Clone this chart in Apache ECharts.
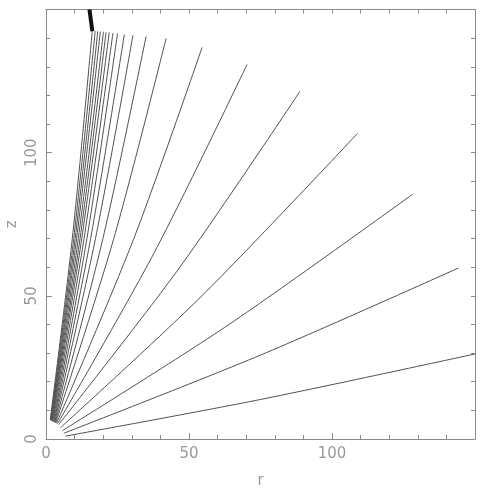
<!DOCTYPE html>
<html>
<head>
<meta charset="utf-8">
<script src="https://cdn.jsdelivr.net/npm/echarts@6/dist/echarts.min.js"></script>
<style>
  html, body { margin: 0; padding: 0; background: #fff; }
  #main { width: 484px; height: 491px; }
</style>
</head>
<body>
<div id="main"></div>
<script>
// axis ranges and ticks
const rRange = [0, 150]
const zRange = [0, 150]
const majorTicks = [0, 50, 100]

// field lines as [r, z] points (start, middle, end)
const fieldLines = [
  [[6.8, 1.0], [75, 13.8], [150, 29.7]],
  [[6.2, 2.0], [75, 29.3], [144.2, 59.7]],
  [[5.7, 2.9], [64, 40], [128.2, 85.5]],
  [[5.0, 3.9], [54.5, 50], [109, 106.8]],
  [[4.4, 5.0], [46.8, 60], [88.8, 121.4]],
  [[4.0, 5.3], [37.8, 65], [70.3, 130.8]],
  [[3.7, 5.5], [30.7, 70], [54.6, 136.8]],
  [[3.4, 5.6], [23.7, 70], [42.0, 139.9]],
  [[3.2, 5.7], [19.9, 70], [35.0, 140.6]],
  [[3.0, 5.8], [17.3, 70], [30.4, 141.0]],
  [[2.8, 5.9], [15.6, 70], [27.4, 141.3]],
  [[2.6, 6.0], [14.3, 70], [25.0, 141.6]],
  [[2.4, 6.1], [13.3, 70], [23.4, 141.8]],
  [[2.2, 6.2], [12.5, 70], [22.1, 142.0]],
  [[2.0, 6.3], [11.9, 70], [21.0, 142.1]],
  [[1.9, 6.4], [11.3, 70], [20.1, 142.2]],
  [[1.8, 6.5], [10.7, 70], [19.0, 142.3]],
  [[1.7, 6.6], [10.2, 70], [18.1, 142.4]],
  [[1.6, 6.7], [9.7, 70], [17.2, 142.5]],
  [[1.5, 6.8], [9.2, 70], [16.2, 142.6]]
]

// the short bold stroke at the top
const boldStroke = [[16.2, 142.4], [15.2, 150]]

const axisGray = '#8a8a8a'
const textGray = '#999999'
const font = 'DejaVu Sans'

const chart = echarts.init(document.getElementById('main'), null, { renderer: 'canvas' })

const baseAxis = {
  type: 'value',
  interval: 50,
  nameMoveOverlap: false,
  axisLine: { show: true, onZero: false, lineStyle: { color: axisGray, width: 1 } },
  axisTick: { show: true, inside: true, length: 6, lineStyle: { color: axisGray } },
  minorTick: { show: true, splitNumber: 5, length: 4, lineStyle: { color: axisGray } },
  splitLine: { show: false },
  nameTextStyle: { color: textGray, fontFamily: font, fontSize: 15 },
  axisLabel: { color: textGray, fontFamily: font, fontSize: 15 }
}

const series = fieldLines.map((pts) => ({
  type: 'line',
  data: pts,
  smooth: 0.3,
  symbol: 'none',
  xAxisIndex: 0,
  yAxisIndex: 0,
  lineStyle: { color: '#505050', width: 1 },
  silent: true,
  animation: false
}))
series.push({
  type: 'line',
  data: boldStroke,
  symbol: 'none',
  lineStyle: { color: '#111', width: 4 },
  silent: true,
  animation: false
})

chart.setOption({
  animation: false,
  grid: { left: 46, right: 9, top: 9.5, bottom: 52, containLabel: false, outerBoundsMode: 'none' },
  xAxis: [
    Object.assign({}, baseAxis, {
      min: rRange[0], max: rRange[1],
      position: 'bottom',
      name: 'r', nameLocation: 'middle', nameGap: 35,
      axisLabel: Object.assign({}, baseAxis.axisLabel, {
        margin: 8,
        formatter: (v) => majorTicks.includes(v) ? String(v) : ''
      })
    }),
    Object.assign({}, baseAxis, {
      min: rRange[0], max: rRange[1],
      position: 'top',
      axisTick: { show: true, inside: true, length: 4, lineStyle: { color: axisGray } },
      axisLabel: { show: false }
    })
  ],
  yAxis: [
    Object.assign({}, baseAxis, {
      min: zRange[0], max: zRange[1],
      position: 'left',
      name: 'z', nameLocation: 'middle', nameGap: 26, nameRotate: 90,
      axisLabel: Object.assign({}, baseAxis.axisLabel, {
        rotate: 90,
        margin: 6,
        formatter: (v) => majorTicks.includes(v) ? String(v) : ''
      })
    }),
    Object.assign({}, baseAxis, {
      min: zRange[0], max: zRange[1],
      position: 'right',
      axisTick: { show: true, inside: true, length: 4, lineStyle: { color: axisGray } },
      axisLabel: { show: false }
    })
  ],
  series: series
})
</script>
</body>
</html>
